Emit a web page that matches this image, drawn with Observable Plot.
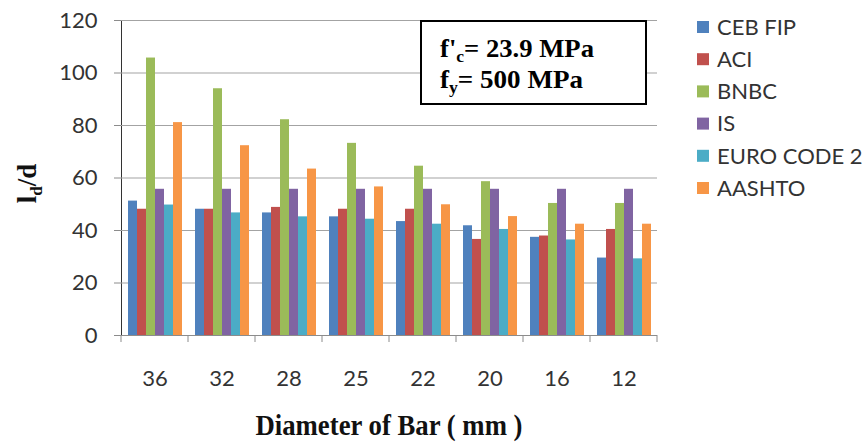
<!DOCTYPE html>
<html><head><meta charset="utf-8">
<script src="https://cdn.jsdelivr.net/npm/d3@7"></script>
<script src="https://cdn.jsdelivr.net/npm/@observablehq/plot@0.6"></script>
<style>
body{margin:0;background:#fff;}
#wrap{position:relative;width:867px;height:443px;}
</style></head><body><div id="wrap"></div>
<script>
// ---- data ----
const diameters = ["36","32","28","25","22","20","16","12"];
const series = ["CEB FIP","ACI","BNBC","IS","EURO CODE 2","AASHTO"];
const colors = ["#4F81BD","#C0504D","#9BBB59","#8064A2","#4BACC6","#F79646"];
const cebFip = [51.2,48.1,46.7,45.2,43.4,41.8,37.4,29.5];
const aci    = [48.1,48.1,48.8,48.1,48.1,36.6,37.9,40.4];
const bnbc   = [105.7,94.0,82.2,73.2,64.5,58.6,50.3,50.3];
const isCode = [55.7,55.7,55.7,55.7,55.7,55.7,55.7,55.7];
const euro2  = [49.7,46.7,45.2,44.3,42.4,40.4,36.4,29.2];
const aashto = [81.1,72.3,63.4,56.6,49.8,45.3,42.4,42.4];
const yTicks = [0,20,40,60,80,100,120];
const xTitle = "Diameter of Bar ( mm )";
const noteLine1 = ["f'", "c", "= 23.9 MPa"];
const noteLine2 = ["f", "y", "= 500 MPa"];

const values = [cebFip, aci, bnbc, isCode, euro2, aashto];
const data = [];
series.forEach((s, i) => diameters.forEach((d, j) => data.push({d, s, v: values[i][j]})));

const W = 867, H = 443;
const plot = Plot.plot({
  width: W, height: H,
  marginLeft: 121, marginRight: 210, marginTop: 20, marginBottom: 108,
  style: {fontFamily: "Lato, sans-serif", fontSize: "22px", color: "#333", background: "#fff"},
  facet: {data, x: "d"},
  fx: {domain: diameters, padding: 0, label: null, axis: "bottom", tickSize: 0, tickPadding: 35},
  x: {domain: series, axis: null, paddingInner: 0, paddingOuter: 0.72},
  y: {domain: [0, 120], ticks: yTicks, label: null, tickSize: 7, tickPadding: 17, line: true},
  color: {domain: series, range: colors},
  marks: [
    Plot.ruleY(yTicks.slice(1), {stroke: "#a3a3a3", strokeWidth: 1}),
    Plot.barY(data, {x: "s", y: "v", fill: "s"}),
    Plot.ruleY([0], {stroke: "#8c8c8c", strokeWidth: 1})
  ]
});
document.getElementById("wrap").appendChild(plot);

const svg = d3.select(plot);
svg.selectAll("g[aria-label='y-axis tick'] path, g[aria-label='y-axis'] path").attr("stroke", "#8c8c8c");

// boundary ticks on x axis from fx scale
const fx = plot.scale("fx");
const ys = plot.scale("y");
const yBase = ys.range[0];
const step = (fx.range[1] - fx.range[0]) / fx.domain.length;
const edges = d3.range(fx.domain.length + 1).map(i => fx.range[0] + i * step);
svg.append("g").selectAll("line").data(edges).join("line")
  .attr("x1", d => d).attr("x2", d => d)
  .attr("y1", yBase).attr("y2", yBase + 7)
  .attr("stroke", "#8c8c8c");

// x title
const xMid = (fx.range[0] + fx.range[1]) / 2;
svg.append("text")
  .attr("x", xMid).attr("y", 435)
  .attr("text-anchor", "middle")
  .attr("font-family", "Liberation Serif, serif").attr("font-weight", "bold")
  .attr("font-size", 29).attr("fill", "#111")
  .attr("textLength", 267).attr("lengthAdjust", "spacingAndGlyphs")
  .text(xTitle);

// y title l_d/d
const yt = svg.append("text")
  .attr("transform", `translate(36,${(ys.range[0] + ys.range[1]) / 2 + 6}) rotate(-90)`)
  .attr("text-anchor", "middle")
  .attr("font-family", "Liberation Serif, serif").attr("font-weight", "bold")
  .attr("font-size", 27).attr("fill", "#111");
yt.append("tspan").text("l");
yt.append("tspan").attr("font-size", 17).attr("dy", 6).text("d");
yt.append("tspan").attr("dy", -6).text("/d");

// annotation box
svg.append("rect").attr("x", 421).attr("y", 21).attr("width", 225).attr("height", 83)
  .attr("fill", "#fff").attr("stroke", "#000").attr("stroke-width", 2);
function note(parts, y, len) {
  const t = svg.append("text").attr("x", 440).attr("y", y)
    .attr("text-anchor", "start")
    .attr("font-family", "Liberation Serif, serif").attr("font-weight", "bold")
    .attr("font-size", 26).attr("fill", "#000")
    .attr("textLength", len).attr("lengthAdjust", "spacingAndGlyphs");
  t.append("tspan").text(parts[0]);
  t.append("tspan").attr("font-size", 17).attr("dy", 5).text(parts[1]);
  t.append("tspan").attr("dy", -5).text(parts[2]);
}
note(noteLine1, 57, 154);
note(noteLine2, 88, 143);

// legend
const lg = svg.append("g").attr("text-anchor", "start");
series.forEach((s, i) => {
  const cy = 27 + i * 32.2;
  lg.append("rect").attr("x", 697).attr("y", cy - 6).attr("width", 12).attr("height", 12).attr("fill", colors[i]);
  lg.append("text").attr("x", 717).attr("y", cy).attr("dy", "0.35em")
    .attr("font-family", "Lato, sans-serif").attr("font-size", 22).attr("fill", "#333").text(s);
});
</script></body></html>
